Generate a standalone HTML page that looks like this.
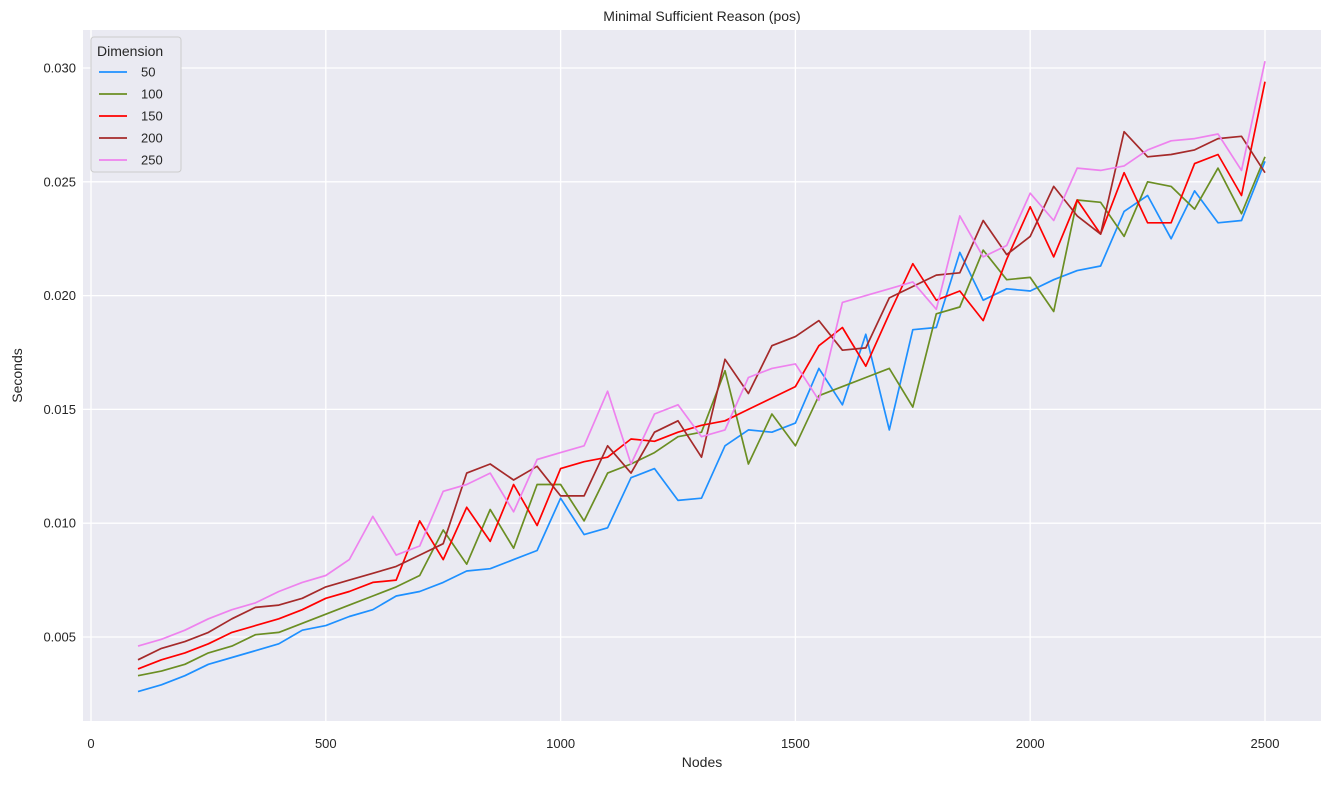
<!DOCTYPE html>
<html><head><meta charset="utf-8"><style>
body{margin:0;background:#fff;font-family:"Liberation Sans",sans-serif}
svg text{font-family:"Liberation Sans",sans-serif;fill:#262626}
</style></head><body>
<svg id="c" width="1332" height="781"></svg>
<script>
const nodes=[];for(let n=100;n<=2500;n+=50)nodes.push(n);
const seriesNames=["50","100","150","200","250"];
const seriesColors=["#1e90ff","#6b8e23","#ff0000","#a52a2a","#ee82ee"];
const s50=[.0026,.0029,.0033,.0038,.0041,.0044,.0047,.0053,.0055,.0059,.0062,.0068,.0070,.0074,.0079,.0080,.0084,.0088,.0111,.0095,.0098,.0120,.0124,.0110,.0111,.0134,.0141,.0140,.0144,.0168,.0152,.0183,.0141,.0185,.0186,.0219,.0198,.0203,.0202,.0207,.0211,.0213,.0237,.0244,.0225,.0246,.0232,.0233,.0259];
const s100=[.0033,.0035,.0038,.0043,.0046,.0051,.0052,.0056,.0060,.0064,.0068,.0072,.0077,.0097,.0082,.0106,.0089,.0117,.0117,.0101,.0122,.0126,.0131,.0138,.0140,.0167,.0126,.0148,.0134,.0156,.0160,.0164,.0168,.0151,.0192,.0195,.0220,.0207,.0208,.0193,.0242,.0241,.0226,.0250,.0248,.0238,.0256,.0236,.0261];
const s150=[.0036,.0040,.0043,.0047,.0052,.0055,.0058,.0062,.0067,.0070,.0074,.0075,.0101,.0084,.0107,.0092,.0117,.0099,.0124,.0127,.0129,.0137,.0136,.0140,.0143,.0145,.0150,.0155,.0160,.0178,.0186,.0169,.0192,.0214,.0198,.0202,.0189,.0216,.0239,.0217,.0242,.0227,.0254,.0232,.0232,.0258,.0262,.0244,.0294];
const s200=[.0040,.0045,.0048,.0052,.0058,.0063,.0064,.0067,.0072,.0075,.0078,.0081,.0086,.0091,.0122,.0126,.0119,.0125,.0112,.0112,.0134,.0122,.0140,.0145,.0129,.0172,.0157,.0178,.0182,.0189,.0176,.0177,.0199,.0204,.0209,.0210,.0233,.0218,.0226,.0248,.0235,.0227,.0272,.0261,.0262,.0264,.0269,.0270,.0254];
const s250=[.0046,.0049,.0053,.0058,.0062,.0065,.0070,.0074,.0077,.0084,.0103,.0086,.0090,.0114,.0117,.0122,.0105,.0128,.0131,.0134,.0158,.0126,.0148,.0152,.0138,.0141,.0164,.0168,.0170,.0154,.0197,.0200,.0203,.0206,.0194,.0235,.0217,.0222,.0245,.0233,.0256,.0255,.0257,.0264,.0268,.0269,.0271,.0255,.0303];
const xTicks=[0,500,1000,1500,2000,2500];
const yTicks=[0.005,0.010,0.015,0.020,0.025,0.030];
const allSeries=[s50,s100,s150,s200,s250];
const L=83,R=1321,T=30,B=721;
const xs=v=>91+v*0.46960;
const ys=v=>68+(0.030-v)/0.005*113.8;
const svg=document.getElementById('c');const NS='http://www.w3.org/2000/svg';
function mk(t,a,p){const e=document.createElementNS(NS,t);for(const k in a)e.setAttribute(k,a[k]);(p||svg).appendChild(e);return e;}
const bg=mk('rect',{x:L,y:T,width:R-L,height:B-T,fill:'#eaeaf2'});


xTicks.forEach(t=>{const x=xs(t);
 const g=mk('line',{x1:x,x2:x,y1:T,y2:B,stroke:'#fff','stroke-width':1.3});
 
 
 const tx=mk('text',{x:x,y:748,'text-anchor':'middle','font-size':13});tx.textContent=t;
 
 });
yTicks.forEach(t=>{const y=ys(t);
 const g=mk('line',{x1:L,x2:R,y1:y,y2:y,stroke:'#fff','stroke-width':1.3});
 
 
 const tx=mk('text',{x:76,y:y+4.5,'text-anchor':'end','font-size':13});tx.textContent=t.toFixed(3);
 
 });
allSeries.forEach((s,i)=>{
 const d=s.map((v,j)=>(j?'L':'M')+xs(nodes[j]).toFixed(1)+','+ys(v).toFixed(1)).join('');
 const p=mk('path',{d:d,fill:'none',stroke:seriesColors[i],'stroke-width':1.7,'stroke-linejoin':'round'});
 
 });
const title=mk('text',{x:(L+R)/2,y:21,'text-anchor':'middle','font-size':14});title.textContent='Minimal Sufficient Reason (pos)';


const xl=mk('text',{x:(L+R)/2,y:767,'text-anchor':'middle','font-size':14});xl.textContent='Nodes';


const yl=mk('text',{x:22,y:(T+B)/2,'text-anchor':'middle','font-size':14,transform:`rotate(-90 22 ${(T+B)/2})`});yl.textContent='Seconds';


const lg=mk('g',{});


mk('rect',{x:91,y:37,width:90,height:135,rx:3,fill:'#eaeaf2',stroke:'#cccccc','stroke-width':1},lg);
const lt=mk('text',{x:97,y:56,'font-size':14},lg);lt.textContent='Dimension';
seriesNames.forEach((n,i)=>{const y=72+i*22;
 const e=mk('g',{},lg);
 
 
 mk('line',{x1:99,x2:127,y1:y,y2:y,stroke:seriesColors[i],'stroke-width':1.7},e);
 const t=mk('text',{x:141,y:y+4.5,'font-size':13},e);t.textContent=n;});
</script>
</body></html>
